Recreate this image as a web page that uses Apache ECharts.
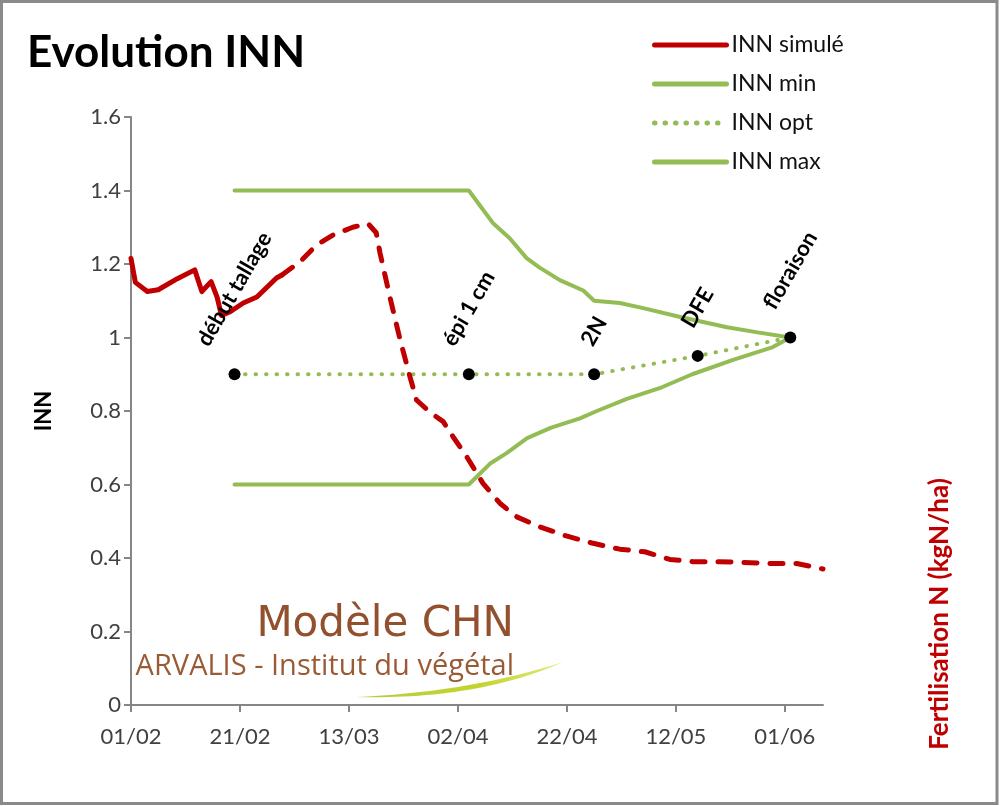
<!DOCTYPE html>
<html>
<head>
<meta charset="utf-8">
<script src="https://cdn.jsdelivr.net/npm/echarts@6/dist/echarts.min.js"></script>
<style>
html,body{margin:0;padding:0;background:#fff;}
#chart{width:1000px;height:806px;}
</style>
</head>
<body>
<div id="chart"></div>
<script>
// ---- data (days counted from 01/02) ----
const xTickDays = [0, 20, 40, 60, 80, 100, 120];

const stageNames = ['début tallage', 'épi 1 cm', '2N', 'DFE', 'floraison'];
const stageDays = [19, 62, 85, 104, 121];
const innOpt = [0.90, 0.90, 0.90, 0.95, 1.00];

const maxDays = [19, 62, 64, 66.5, 69.5, 72.6, 75, 78.7, 83, 85, 89.7, 94, 101, 109.4, 115, 121];
const innMax = [1.40, 1.40, 1.36, 1.31, 1.27, 1.216, 1.19, 1.156, 1.128, 1.10, 1.094, 1.08, 1.055, 1.028, 1.014, 1.00];

const minDays = [19, 62, 66, 69, 72.7, 77, 82.4, 85.5, 91, 97, 103, 110.5, 117.8, 121];
const innMin = [0.60, 0.60, 0.658, 0.686, 0.726, 0.754, 0.78, 0.80, 0.833, 0.862, 0.90, 0.939, 0.974, 1.00];

const simObsDays = [0, 0.8, 3, 5, 8.5, 11.7, 13, 14.7, 15.8, 16.6, 18.2, 20.6, 23.1, 26.7, 27.7];
const innSimObs = [1.215, 1.15, 1.125, 1.13, 1.16, 1.184, 1.125, 1.152, 1.11, 1.06, 1.07, 1.094, 1.11, 1.162, 1.17];

const simFcDays = [27.7, 31, 34.1, 37.1, 40.7, 43.5, 45, 45.7, 47.5, 49.4, 51.2, 52.4, 53.5, 55, 57.3, 59.1, 61.6, 64.6, 67.7, 70.8, 75, 79.9, 84.8, 89.7, 94.3, 98.9, 103.1, 108, 112.3, 117.8, 122.2, 126.4, 127];
const innSimFc = [1.17, 1.206, 1.252, 1.279, 1.30, 1.31, 1.285, 1.23, 1.111, 0.993, 0.893, 0.83, 0.815, 0.795, 0.771, 0.73, 0.676, 0.603, 0.549, 0.512, 0.485, 0.46, 0.44, 0.424, 0.417, 0.396, 0.39, 0.39, 0.388, 0.385, 0.385, 0.372, 0.37];

// ---- helpers ----
const pairs = (xs, ys) => xs.map((x, i) => [x, ys[i]]);
const BASE = Date.UTC(2023, 1, 1);
const pad = n => (n < 10 ? '0' : '') + n;
function dayLabel(d) {
  const dt = new Date(BASE + d * 86400000);
  return pad(dt.getUTCDate()) + '/' + pad(dt.getUTCMonth() + 1);
}
const STAGE_FONT = 'bold 22px Lato';
const ctx = document.createElement('canvas').getContext('2d');
ctx.font = STAGE_FONT;
const textW = s => ctx.measureText(s).width;

// logo swoosh outline (decoration): two quadratic curves
function quad(p0, c, p1, n) {
  const out = [];
  for (let i = 0; i <= n; i++) {
    const t = i / n, a = (1 - t) * (1 - t), b = 2 * (1 - t) * t, d = t * t;
    out.push([a * p0[0] + b * c[0] + d * p1[0], a * p0[1] + b * c[1] + d * p1[1]]);
  }
  return out;
}
const swoosh = quad([356, 697], [470, 692], [563, 662], 30)
  .concat(quad([563, 662], [478, 700], [356, 697], 30).slice(1));

const RED = '#C00000';
const GREEN = '#93BC55';
const TXT = '#404040';

const chart = echarts.init(document.getElementById('chart'), null, {renderer: 'canvas'});

const stageData = stageDays.map((d, i) => ({
  value: [d, innOpt[i]],
  label: { distance: 19 + textW(stageNames[i]) * 0.433 + 5 }
}));

chart.setOption({
  backgroundColor: '#fff',
  animation: false,
  title: {
    text: 'Evolution INN',
    left: 22, top: 26,
    textStyle: { fontFamily: 'Lato', fontWeight: 'bold', fontSize: 44, color: '#000' }
  },
  legend: {
    orient: 'vertical',
    left: 652, top: 33,
    itemWidth: 72, itemHeight: 14, itemGap: 15,
    padding: 0,
    data: ['INN simulé', 'INN min', 'INN opt', 'INN max'],
    itemStyle: { opacity: 0 },
    lineStyle: { width: 5, cap: 'round' },
    textStyle: { fontFamily: 'Lato', fontSize: 23, color: '#111', lineHeight: 24 }
  },
  grid: { left: 131, right: 177, top: 117, bottom: 101 },
  xAxis: {
    type: 'value', min: 0, max: 127, interval: 20,
    axisLine: { lineStyle: { color: '#868686', width: 2 } },
    axisTick: { show: true, length: 7, lineStyle: { color: '#868686', width: 2 }, customValues: xTickDays },
    axisLabel: {
      customValues: xTickDays,
      formatter: v => dayLabel(v),
      fontFamily: 'Lato', fontSize: 22, color: TXT, margin: 21
    },
    splitLine: { show: false }
  },
  yAxis: [{
    type: 'value', min: 0, max: 1.6, interval: 0.2,
    name: 'INN', nameLocation: 'middle', nameGap: 76, nameRotate: 90,
    nameTextStyle: { fontFamily: 'Lato', fontWeight: 'bold', fontSize: 22, color: '#000' },
    axisLine: { show: true, lineStyle: { color: '#868686', width: 2 } },
    axisTick: { show: true, length: 7, lineStyle: { color: '#868686', width: 2 } },
    axisLabel: {
      formatter: v => String(+v.toFixed(1)),
      fontFamily: 'Lato', fontSize: 22, color: TXT, margin: 10
    },
    splitLine: { show: false }
  }],
  graphic: [
    { type: 'rect', silent: true, z: 100,
      shape: { x: 1.5, y: 1.5, width: 995.5, height: 802 },
      style: { fill: 'none', stroke: '#8a8a8a', lineWidth: 3 } },
    { type: 'text', silent: true, x: 940, y: 614, rotation: Math.PI / 2,
      style: { text: 'Fertilisation N (kgN/ha)', fill: RED, font: 'bold 26px Lato',
               textAlign: 'center', textVerticalAlign: 'middle' } },
    { type: 'text', silent: true, x: 514, y: 646,
      style: { text: 'Modèle CHN', fill: '#92502E', font: '42px "DejaVu Sans"',
               textAlign: 'right', textVerticalAlign: 'bottom' } },
    { type: 'text', silent: true, x: 514, y: 681,
      style: { text: 'ARVALIS - Institut du végétal', fill: '#9A5A36', font: '29px "Open Sans"',
               textAlign: 'right', textVerticalAlign: 'bottom' } },
    { type: 'polygon', silent: true,
      shape: { points: swoosh },
      style: { fill: new echarts.graphic.LinearGradient(0, 0, 1, 0, [
        { offset: 0, color: '#b8cc3a' }, { offset: 0.6, color: '#c3d431' }, { offset: 1, color: '#e3e97a' }]) } }
  ],
  series: [
    { name: 'INN simulé', type: 'line', data: pairs(simObsDays, innSimObs), symbol: 'none', z: 5,
      lineStyle: { color: RED, width: 5, cap: 'round', join: 'round' }, itemStyle: { color: RED } },
    { name: 'INN simulé', type: 'line', data: pairs(simFcDays, innSimFc), symbol: 'none', z: 5,
      lineStyle: { color: RED, width: 5, type: [13, 13], cap: 'round', join: 'round' }, itemStyle: { color: RED } },
    { name: 'INN min', type: 'line', data: pairs(minDays, innMin), symbol: 'none', z: 3,
      lineStyle: { color: GREEN, width: 4, cap: 'round' }, itemStyle: { color: GREEN } },
    { name: 'INN opt', type: 'line', data: pairs(stageDays, innOpt), symbol: 'none', z: 3,
      lineStyle: { color: GREEN, width: 4, type: [0.5, 10], cap: 'round' }, itemStyle: { color: GREEN } },
    { name: 'INN max', type: 'line', data: pairs(maxDays, innMax), symbol: 'none', z: 3,
      lineStyle: { color: GREEN, width: 4, cap: 'round' }, itemStyle: { color: GREEN } },
    { name: 'stades', type: 'scatter', data: stageData, symbol: 'circle', symbolSize: 12, z: 6,
      itemStyle: { color: '#000', opacity: 1 },
      label: {
        show: true, position: 'top', rotate: 60, align: 'center', verticalAlign: 'middle',
        formatter: p => stageNames[p.dataIndex],
        fontFamily: 'Lato', fontWeight: 'bold', fontSize: 22, color: '#000'
      } }
  ]
});
</script>
</body>
</html>
